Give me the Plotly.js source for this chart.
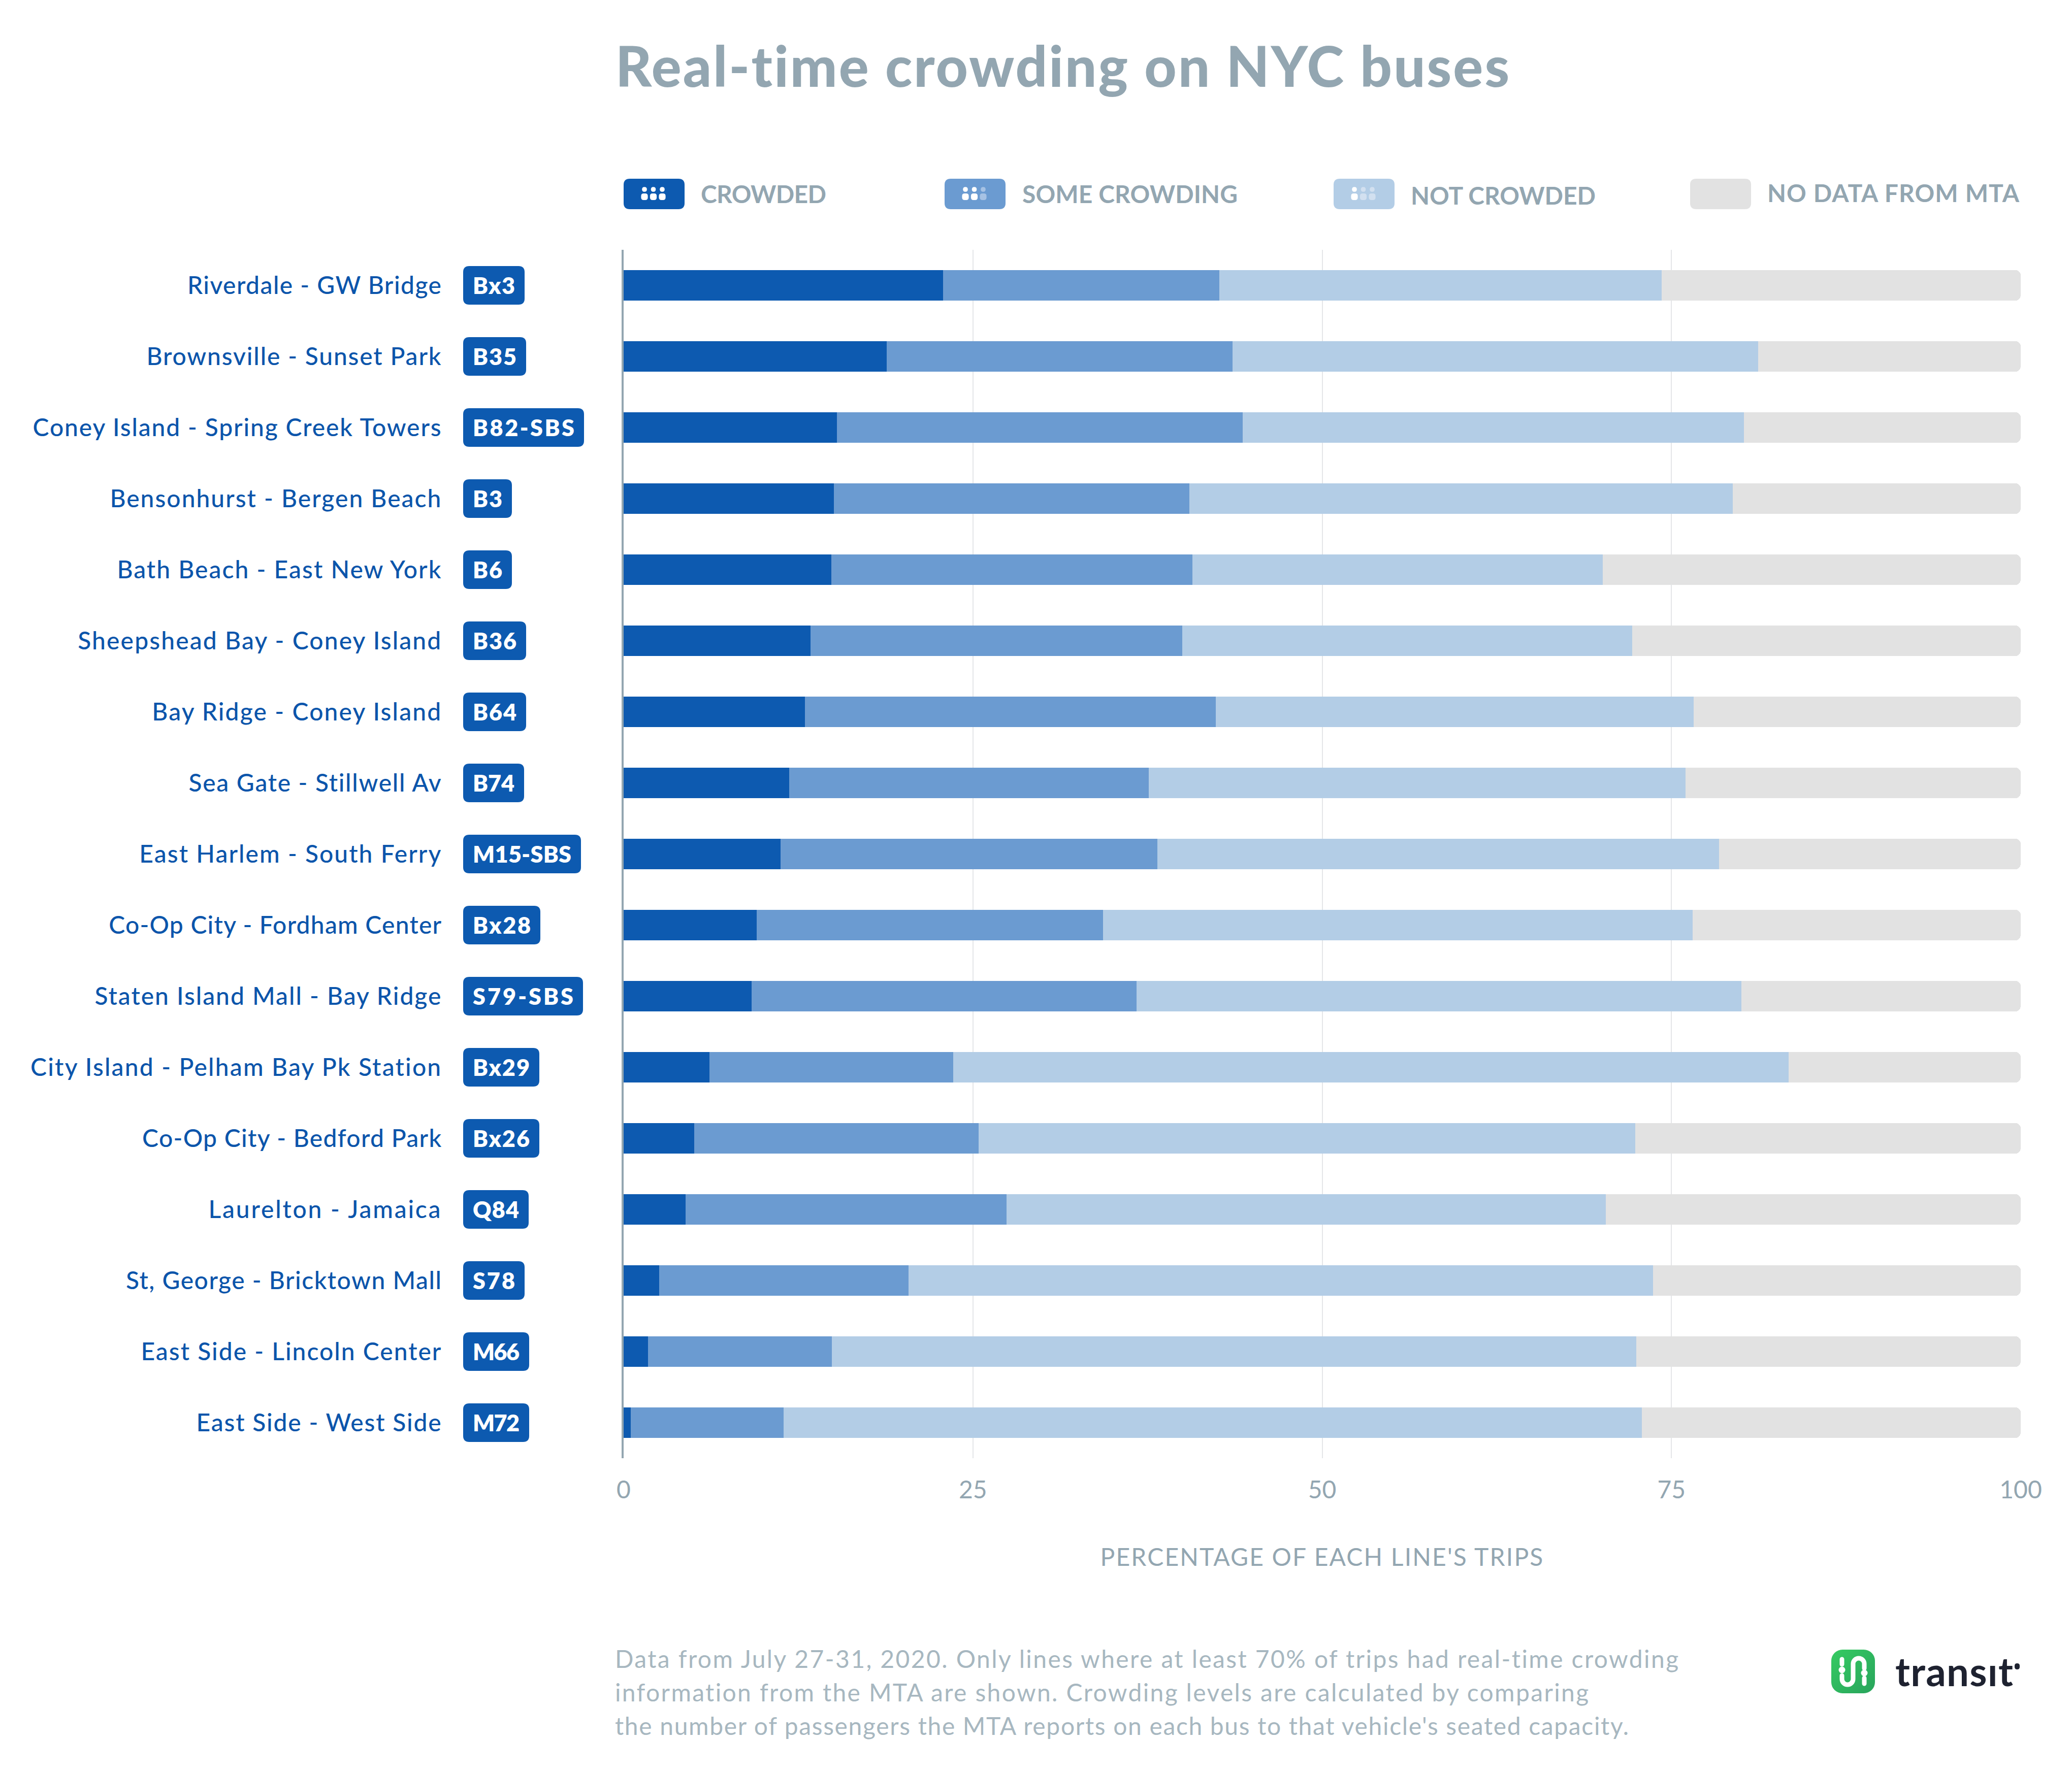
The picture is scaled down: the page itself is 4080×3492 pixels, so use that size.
<!DOCTYPE html>
<html>
<head>
<meta charset="utf-8">
<script src="https://cdn.plot.ly/plotly-3.0.1.min.js"></script>
<style>html,body{margin:0;padding:0;background:#fff}</style>
</head>
<body>
<div id="chart" style="width:4080px;height:3492px"></div>
<script>
const lineNames = ["Riverdale - GW Bridge","Brownsville - Sunset Park","Coney Island - Spring Creek Towers","Bensonhurst - Bergen Beach","Bath Beach - East New York","Sheepshead Bay - Coney Island","Bay Ridge - Coney Island","Sea Gate - Stillwell Av","East Harlem - South Ferry","Co-Op City - Fordham Center","Staten Island Mall - Bay Ridge","City Island - Pelham Bay Pk Station","Co-Op City - Bedford Park","Laurelton - Jamaica","St, George - Bricktown Mall","East Side - Lincoln Center","East Side - West Side"];
const routes = ["Bx3","B35","B82-SBS","B3","B6","B36","B64","B74","M15-SBS","Bx28","S79-SBS","Bx29","Bx26","Q84","S78","M66","M72"];
const crowded = [22.87,18.84,15.27,15.04,14.87,13.37,12.97,11.84,11.24,9.54,9.17,6.14,5.04,4.44,2.54,1.74,0.5];
const someCrowding = [19.78,24.76,29.03,25.46,25.83,26.63,29.43,25.76,26.96,24.76,27.53,17.46,20.36,22.96,17.86,13.16,10.95];
const notCrowded = [31.65,37.6,35.9,38.9,29.4,32.2,34.2,38.4,40.2,42.2,43.3,59.8,47.0,42.9,53.3,57.6,61.45];
const noData = [25.7,18.8,19.8,20.6,29.9,27.8,23.4,24.0,21.6,23.5,20.0,16.6,27.6,29.7,26.3,27.5,27.1];
const seriesNames = ["CROWDED","SOME CROWDING","NOT CROWDED","NO DATA FROM MTA"];
const xTicks = [0,25,50,75,100];
const footnotes = ["Data from July 27-31, 2020. Only lines where at least 70% of trips had real-time crowding","information from the MTA are shown. Crowding levels are calculated by comparing","the number of passengers the MTA reports on each bus to that vehicle's seated capacity."];

// text-fit widths, in page pixels (styling only)
const labelWidths = [500,580,804,652,638,715,569,498,594,655,682,809,589,457,621,591,482];
const badgeWidths = [121,124,238,96,96,124,124,120,232,152,236,150,150,129,121,130,130];
const legendWidths = [247,424,364,496];
const footWidths = [2095,1918,1996];

const COL = {crowded:"#0d5ab0",some:"#6b9bd1",not:"#b3cde6",none:"#e2e2e2",grey:"#93a6b1",foot:"#a7b7c0",label:"#0b55ab"};
const FONT = "Lato";
const L=1228,R=3979,T=492,B=2872,W=R-L,H=B-T;
const xp=v=>(v-L)/W, yp=v=>1-(v-T)/H;

function rr(x0,y0,x1,y1,r){return `M${x0+r},${y0} L${x1-r},${y0} Q${x1},${y0} ${x1},${y0+r} L${x1},${y1-r} Q${x1},${y1} ${x1-r},${y1} L${x0+r},${y1} Q${x0},${y1} ${x0},${y1-r} L${x0},${y0+r} Q${x0},${y0} ${x0+r},${y0} Z`;}
function pxShape(x0,y0,x1,y1,r,color){
  return {type:"path",xref:"paper",yref:"paper",xsizemode:"pixel",ysizemode:"pixel",xanchor:0,yanchor:1,
    path:rr(x0-L,-(y1-T),x1-L,-(y0-T),r),fillcolor:color,line:{width:0},layer:"above"};
}
function note(text,x,y,size,color,weight){
  return {text,xref:"paper",yref:"paper",x:xp(x),y:yp(y),xanchor:"left",yanchor:"middle",showarrow:false,
    font:{family:FONT,size,color,weight:weight||400},align:"left",borderpad:0};
}

const shapes=[],annotations=[];
const BADGE_SIZE=45;
routes.forEach((r,i)=>{
  shapes.push({type:"path",xref:"paper",yref:"y",xsizemode:"pixel",ysizemode:"pixel",xanchor:xp(912),yanchor:i,
    path:rr(0,-38,badgeWidths[i],38,12),fillcolor:COL.crowded,line:{width:0},layer:"above"});
  annotations.push({text:r,xref:"paper",yref:"y",x:xp(930),y:i,xanchor:"left",yanchor:"middle",showarrow:false,align:"left",
    borderpad:0,font:{family:FONT,size:BADGE_SIZE,color:"#ffffff",weight:800}});
});

const legendX=[[1228,1379,382],[1860,2012,382],[2626,2777,384.5],[3328,3479,380]];
const legendFill=[COL.crowded,COL.some,COL.not,COL.none];
const dotFill=[["#fff","#fff","#fff"],["#fff","#fff","#a6c2e4"],["#fff","#d2e0f0","#d2e0f0"],null];
seriesNames.forEach((n,i)=>{
  const [bx,tx,ty]=legendX[i];
  shapes.push(pxShape(bx,352,bx+120,412,12,legendFill[i]));
  annotations.push(note(n,tx,ty,48,COL.grey,700));
  if(dotFill[i]) dotFill[i].forEach((c,j)=>{
    const cx=bx+41+j*17.5;
    shapes.push(pxShape(cx-4.8,368.2,cx+4.8,377.8,4.8,c));
    shapes.push(pxShape(cx-6.6,381,cx+6.6,394,5,c));
  });
});

footnotes.forEach((t,i)=>annotations.push(note(t,1210,3266+i*66,48,COL.foot)));

const logo=`<svg xmlns="http://www.w3.org/2000/svg" viewBox="0 0 86 86"><defs><linearGradient id="g" x1="0" y1="0" x2="1" y2="1"><stop offset="0" stop-color="#36cb62"/><stop offset="1" stop-color="#28a45c"/></linearGradient></defs><rect width="86" height="86" rx="22" fill="url(#g)"/><path d="M21 51V58A11 11 0 0 0 43 58V28A11 11 0 0 1 65 28V37M21 19V29M65 56V67" stroke="#fff" stroke-width="9" fill="none" stroke-linecap="round"/><circle cx="21" cy="40" r="6.5" fill="#fff"/><circle cx="65" cy="46" r="6.5" fill="#fff"/></svg>`;
annotations.push(note("transıt",3731,3291,78,"#1e2230",700));
shapes.push(pxShape(3967,3276,3977,3288,5,"#1e2230"));

const seriesVals=[crowded,someCrowding,notCrowded,noData];
const data=seriesVals.map((vals,i)=>({
  type:"bar",orientation:"h",name:seriesNames[i],y:lineNames,x:vals,
  marker:{color:legendFill[i],line:{width:0}},showlegend:false,hoverinfo:"skip"
}));

const layout={
  width:4080,height:3492,
  margin:{l:L,r:4080-R,t:T,b:3492-B,pad:0},
  paper_bgcolor:"#fff",plot_bgcolor:"#fff",
  barmode:"stack",bargap:1-60/140,barcornerradius:10,
  showlegend:false,
  title:{text:"Real-time crowding on NYC buses",x:1212/4080,xanchor:"left",xref:"container",y:1-132/3492,yanchor:"middle",
    font:{family:FONT,size:110,color:COL.grey,weight:900}},
  xaxis:{range:[0,100],tickvals:xTicks,ticktext:xTicks.map(String),showgrid:true,gridcolor:"#e4e6e8",gridwidth:2,zeroline:false,
    showline:false,ticks:"",ticklabelstandoff:30,tickfont:{family:FONT,size:48,color:COL.grey},
    title:{text:"PERCENTAGE OF EACH LINE'S TRIPS",standoff:90,font:{family:FONT,size:48,color:COL.grey}}},
  yaxis:{type:"category",categoryorder:"array",categoryarray:lineNames,range:[16.5,-0.5],showgrid:false,zeroline:false,
    showline:true,linecolor:COL.grey,linewidth:4,ticks:"",ticklabelstandoff:344,
    tickfont:{family:FONT,size:48,color:COL.label,weight:500}},
  shapes,annotations,
  images:[{source:"data:image/svg+xml;utf8,"+encodeURIComponent(logo),xref:"paper",yref:"paper",x:xp(3606),y:yp(3249),sizex:86/W,sizey:86/H,xanchor:"left",yanchor:"top",sizing:"stretch",layer:"above"}]
};

function fit(el,w){
  const n=el.textContent.length;
  const len=el.getComputedTextLength();
  el.style.letterSpacing=((w-len)/Math.max(n-1,1)).toFixed(3)+"px";
}
Plotly.newPlot("chart",data,layout,{displayModeBar:false,staticPlot:true}).then(gd=>{
  const widths=new Map();
  routes.forEach((r,i)=>widths.set(r,badgeWidths[i]-38));
  seriesNames.forEach((n,i)=>widths.set(n,legendWidths[i]));
  footnotes.forEach((t,i)=>widths.set(t,footWidths[i]));
  lineNames.forEach((t,i)=>widths.set(t,labelWidths[i]));
  widths.set("Real-time crowding on NYC buses",1762);
  widths.set("PERCENTAGE OF EACH LINE'S TRIPS",872);
  widths.set("transıt",232);
  gd.querySelectorAll("text").forEach(el=>{
    const w=widths.get(el.textContent);
    if(w) fit(el,w);
  });
});
</script>
</body>
</html>
